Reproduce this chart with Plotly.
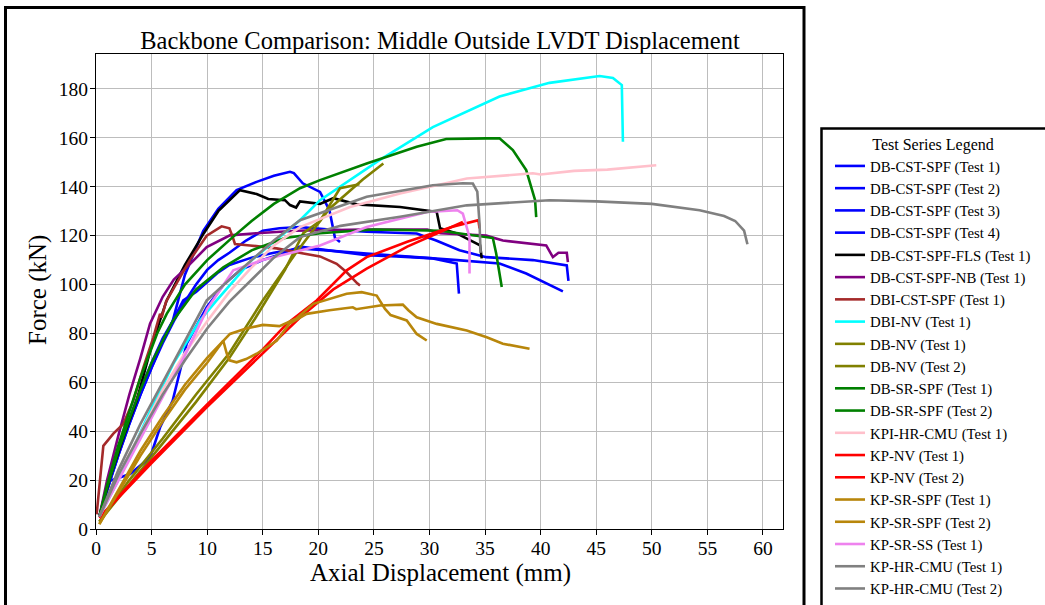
import plotly.graph_objects as go

# ---------------- data ----------------
names = [
    "DB-CST-SPF (Test 1)", "DB-CST-SPF (Test 2)", "DB-CST-SPF (Test 3)", "DB-CST-SPF (Test 4)",
    "DB-CST-SPF-FLS (Test 1)", "DB-CST-SPF-NB (Test 1)", "DBI-CST-SPF (Test 1)", "DBI-NV (Test 1)",
    "DB-NV (Test 1)", "DB-NV (Test 2)", "DB-SR-SPF (Test 1)", "DB-SR-SPF (Test 2)",
    "KPI-HR-CMU (Test 1)", "KP-NV (Test 1)", "KP-NV (Test 2)", "KP-SR-SPF (Test 1)",
    "KP-SR-SPF (Test 2)", "KP-SR-SS (Test 1)", "KP-HR-CMU (Test 1)", "KP-HR-CMU (Test 2)",
]
colors = [
    "#0000FF", "#0000FF", "#0000FF", "#0000FF",
    "#000000", "#800080", "#A52A2A", "#00FFFF",
    "#808000", "#808000", "#008000", "#008000",
    "#FFC0CB", "#FF0000", "#FF0000", "#B8860B",
    "#B8860B", "#EE82EE", "#808080", "#808080",
]

dbcst1_x = [0.3, 1, 2, 3, 4, 5, 6, 6.9, 8, 9.65, 11, 12.65, 14.45, 16, 17.45, 17.8, 18.6, 20.15, 21, 21.3, 21.5, 21.95]
dbcst1_y = [5, 18, 32, 45, 57, 68, 78, 85, 104, 122, 131, 138.6, 142, 144.5, 146.1, 145.6, 141.4, 137.9, 130.4, 123.5, 119, 117.4]

dbcst2_x = [0.3, 1.26, 3.06, 4.86, 5.76, 6.9, 8.16, 9.96, 11.5, 13, 15, 17, 18.35, 20, 24.35, 27, 30.3, 32.45, 32.6, 32.65]
dbcst2_y = [5, 19.7, 22.5, 29.2, 41.5, 52.5, 75.8, 90.7, 100, 106, 110, 113, 115.5, 114.5, 112, 111.5, 110.7, 108.6, 100, 96.3]

dbcst3_x = [0.3, 1, 2, 3, 4, 5, 6, 7, 8, 9, 10, 11, 12, 13.5, 15, 16.5, 18.35, 21, 24.35, 28.85, 30.6, 32.7, 35.1, 39.3, 42.35, 42.5]
dbcst3_y = [5, 16, 30, 43, 55, 66, 76, 85, 93, 100, 106, 110, 113, 118, 122, 123, 123.5, 122.5, 121.6, 120.9, 118, 114, 111.2, 110, 107.8, 101.5]

dbcst4_x = [0.3, 1, 2, 3, 4, 5, 6, 7, 7.85, 9, 10, 11, 12, 14, 16, 18.35, 24.35, 30, 32.5, 36.3, 38.7, 42]
dbcst4_y = [5, 16, 30, 43, 55, 66, 77, 86, 93.5, 97, 101, 105, 108, 111, 113, 114.8, 112.7, 111, 110, 108.6, 104.5, 97.2]

fls_x = [0.3, 1.26, 2.5, 3.66, 5, 6.36, 8, 9.7, 11, 12.95, 14.45, 15.5, 17, 17.45, 18, 18.35, 20.15, 21.35, 23.45, 27.35, 30.65, 30.95, 32.45, 34.55, 34.7]
fls_y = [5, 21, 38, 52.5, 75, 93.5, 108, 121, 130, 138.6, 137, 135, 134.5, 132.5, 131.5, 134, 133, 135.3, 132.8, 131.7, 129.7, 123, 120.9, 116, 110.7]

nb_x = [0.3, 1, 2, 3, 4, 4.86, 6, 7, 8.16, 9.96, 12.05, 14.45, 18, 24, 29.8, 31, 35.1, 36.6, 40.5, 41.1, 41.6, 42.35, 42.45]
nb_y = [5, 20, 38, 55, 70, 84, 95, 102, 107, 115.3, 120.1, 121, 122, 122.5, 122.5, 121, 120, 118, 116, 111.2, 113, 113, 109.2]

dbi_cst_x = [0.06, 0.66, 1.56, 2.46, 3.36, 4.26, 5.16, 5.76, 5.9, 6.3, 8.45, 9.96, 11.3, 12.0, 12.3, 12.5, 13.85, 16.25, 18.65, 20.15, 21.65, 22.55, 23.5, 23.75]
dbi_cst_y = [6, 34, 39, 43, 52.5, 66, 78.4, 88, 86.5, 93, 110, 120, 123.8, 123, 119.4, 116.6, 116, 114.8, 112.7, 111.5, 108.5, 105, 100.5, 99.6]

dbinv_x = [0.3, 2, 4.86, 7, 9.35, 10.85, 14, 18.35, 20.15, 25.5, 30.3, 36.3, 40.8, 45.3, 46.5, 47.3, 47.4]
dbinv_y = [5, 20, 48, 68, 85.3, 93.5, 110, 126.3, 134.5, 150.9, 164.4, 176.9, 182.5, 185.3, 184.5, 181.6, 158.4]

dbnv1_x = [0.3, 3, 6, 9, 12, 15, 18, 21, 24, 25.85]
dbnv1_y = [3, 20, 37, 55, 72, 93.5, 113, 131, 143, 149.5]

dbnv2_x = [0.3, 3, 6, 9, 12, 14.3, 17, 18.65, 20.15, 21.95, 23.7]
dbnv2_y = [3, 18, 35, 52, 70, 86, 106, 121, 126, 139.4, 141]

dbsr1_x = [0.3, 1, 2, 3, 4, 5.5, 6.36, 8, 10, 12.3, 14, 16, 18.35, 20.15, 24.35, 28.85, 31.5, 35.1, 36.3, 37.5, 38.7, 39.5, 39.6]
dbsr1_y = [5, 18, 34, 48, 62, 80, 88, 100, 110, 119.4, 126, 133, 139.4, 142.7, 149.5, 156.4, 159.5, 159.8, 159.8, 155, 146.8, 134.5, 127.6]

dbsr2_x = [0.3, 1, 2, 3, 4, 5, 6.9, 9, 11.45, 14, 17, 20.15, 25, 31, 35.7, 36, 36.5]
dbsr2_y = [5, 17, 32, 45, 57, 68, 85, 98, 107, 114, 119, 121, 122.5, 122, 119, 112.7, 99]

kpi_x = [0.3, 2, 4.56, 6, 8, 10, 12, 14, 16, 18.35, 22.85, 27.35, 33.35, 39.3, 40, 43, 46, 50.4]
kpi_y = [5, 22, 44, 57, 72, 85, 97, 107, 116, 123.5, 131.7, 137.2, 143.4, 145.5, 145, 146.5, 147, 148.8]

kpnv1_x = [0.3, 5, 10, 15, 18.35, 21.35, 24.35, 28, 31, 33]
kpnv1_y = [4.6, 27, 50, 72, 86.5, 98, 106.5, 115.5, 121.5, 125.6]

kpnv2_x = [0.3, 5, 10, 15, 17.15, 19.85, 22.55, 24.35, 28, 32, 34.4, 34.5]
kpnv2_y = [4.6, 28, 51, 73.5, 83.9, 93.5, 105.8, 111.2, 117.5, 123.5, 126.3, 123]

kpsr1_x = [0.3, 2, 4, 6, 8, 10, 12.05, 13.5, 15, 16.5, 18, 19.55, 22.55, 23.9, 25.25, 26, 26.5, 27.95, 28.85, 29.75]
kpsr1_y = [2, 16, 32, 46, 59, 70, 79.8, 82, 83.5, 83, 86, 92.1, 96.2, 96.9, 95.5, 90, 87.5, 85.3, 79.8, 77.1]

kpsr2_x = [0.3, 2, 4, 6, 8, 10, 11.45, 11.75, 12.0, 12.65, 13.5, 14.45, 16.25, 17.4, 18.95, 21, 23.1, 23.4, 25.55, 27.6, 28.1, 28.85, 30.65, 33.35, 35.15, 36.6, 39.0]
kpsr2_y = [2, 15, 30, 44, 57, 68, 77, 72, 69, 68.2, 69.5, 71.7, 77, 84, 88, 89.5, 90.7, 89.9, 91.4, 91.8, 89.5, 86.6, 83.9, 81.2, 78.4, 75.8, 73.7]

kpss_x = [0.3, 2, 4, 6, 8, 10, 12.35, 15, 18.35, 20.15, 24.35, 29.8, 32.5, 33.0, 33.6, 33.6]
kpss_y = [5, 20, 37, 54, 71, 90, 105.8, 110, 113.8, 116, 123.5, 129.7, 130.4, 129, 119.4, 104.5]

kphr1_x = [0.3, 2, 4, 6, 8, 9.96, 12, 14, 16, 18.35, 24.35, 30.3, 33, 33.9, 34.3, 34.5, 34.6]
kphr1_y = [5, 24, 43, 60, 77, 93.5, 102, 110, 118, 126.3, 135.9, 140.6, 141.4, 141.3, 138, 125, 113]

kphr2_x = [0.3, 2, 4, 6, 8, 10, 12, 14, 16, 18.35, 22, 27.35, 33.35, 40.8, 45, 50, 54.3, 56.5, 57.5, 58.3, 58.6]
kphr2_y = [5, 22, 39, 55, 69, 82, 93, 102, 111, 119.4, 124, 127.7, 132.4, 134.5, 134, 133, 130.4, 128, 126, 122, 116.5]

series_x = [dbcst1_x, dbcst2_x, dbcst3_x, dbcst4_x, fls_x, nb_x, dbi_cst_x, dbinv_x,
            dbnv1_x, dbnv2_x, dbsr1_x, dbsr2_x, kpi_x, kpnv1_x, kpnv2_x, kpsr1_x,
            kpsr2_x, kpss_x, kphr1_x, kphr2_x]
series_y = [dbcst1_y, dbcst2_y, dbcst3_y, dbcst4_y, fls_y, nb_y, dbi_cst_y, dbinv_y,
            dbnv1_y, dbnv2_y, dbsr1_y, dbsr2_y, kpi_y, kpnv1_y, kpnv2_y, kpsr1_y,
            kpsr2_y, kpss_y, kphr1_y, kphr2_y]

x_ticks = [0, 5, 10, 15, 20, 25, 30, 35, 40, 45, 50, 55, 60]
y_ticks = [0, 20, 40, 60, 80, 100, 120, 140, 160, 180]

title_text = "Backbone Comparison: Middle Outside LVDT Displacement"
x_title = "Axial Displacement (mm)"
y_title = "Force (kN)"
legend_title = "Test Series Legend"

# ---------------- figure ----------------
FONT = "Liberation Serif, Times New Roman, serif"
W, H = 1045, 605

L, R, T, B = 96, 783, 54, 529   # plot area in page pixels (body margin removed below)
pw, ph = R - L, B - T

def paper_x(px):
    return (px - L) / pw

def paper_y(py):
    return (B - py) / ph

fig = go.Figure()
for nm, c, xs, ys in zip(names, colors, series_x, series_y):
    fig.add_trace(go.Scatter(x=xs, y=ys, mode="lines", name=nm,
                             line=dict(color=c, width=2.6)))

axis_common = dict(
    showline=True, linecolor="black", linewidth=1, mirror=True,
    ticks="outside", ticklen=5, tickcolor="black", tickwidth=1,
    showgrid=True, gridcolor="#bdbdbd", gridwidth=1, zeroline=False,
    tickfont=dict(family=FONT, size=19.5, color="black"),
    automargin=False,
)

fig.update_layout(
    width=W, height=H,
    margin=dict(l=L, r=W - R, t=T, b=H - B, autoexpand=False),
    paper_bgcolor="white", plot_bgcolor="white",
    font=dict(family=FONT, color="black"),
    title=dict(text=title_text, x=paper_x(440), xref="paper", xanchor="center",
               y=1 - 40 / H, yanchor="middle",
               font=dict(family=FONT, size=24.5, color="black")),
    xaxis=dict(range=[0, 61.8], tickvals=x_ticks, ticklabelstandoff=-3, **axis_common),
    yaxis=dict(range=[0, 194.3], tickvals=y_ticks, ticklabelstandoff=-2, **axis_common),
    showlegend=True,
    legend=dict(
        x=paper_x(830), y=paper_y(129), xanchor="left", yanchor="top",
        bgcolor="rgba(0,0,0,0)", borderwidth=0,
        font=dict(family=FONT, size=14.8, color="black"),
        title=dict(text=legend_title, side="top center",
                   font=dict(family=FONT, size=16, color="black")),
        itemwidth=30, tracegroupgap=0, maxheight=700,
    ),
    annotations=[
        dict(text=x_title, xref="paper", yref="paper", x=paper_x(440), y=paper_y(573),
             xanchor="center", yanchor="middle", showarrow=False,
             font=dict(family=FONT, size=25, color="black")),
        dict(text=y_title, xref="paper", yref="paper", x=paper_x(38), y=paper_y(290),
             xanchor="center", yanchor="middle", showarrow=False, textangle=-90,
             font=dict(family=FONT, size=25, color="black")),
    ],
    shapes=[
        # outer frame of the figure image
        dict(type="rect", xref="paper", yref="paper",
             x0=paper_x(5.5), x1=paper_x(804), y0=paper_y(640), y1=paper_y(7.5),
             line=dict(color="black", width=3), fillcolor="rgba(0,0,0,0)", layer="below"),
        # legend box
        dict(type="rect", xref="paper", yref="paper",
             x0=paper_x(821.5), x1=paper_x(1100), y0=paper_y(640), y1=paper_y(128.5),
             line=dict(color="black", width=2.5), fillcolor="rgba(0,0,0,0)", layer="below"),
    ],
)

fig.write_html("out.html", config={"displayModeBar": False},
               post_script="document.body.style.margin='0px';")
